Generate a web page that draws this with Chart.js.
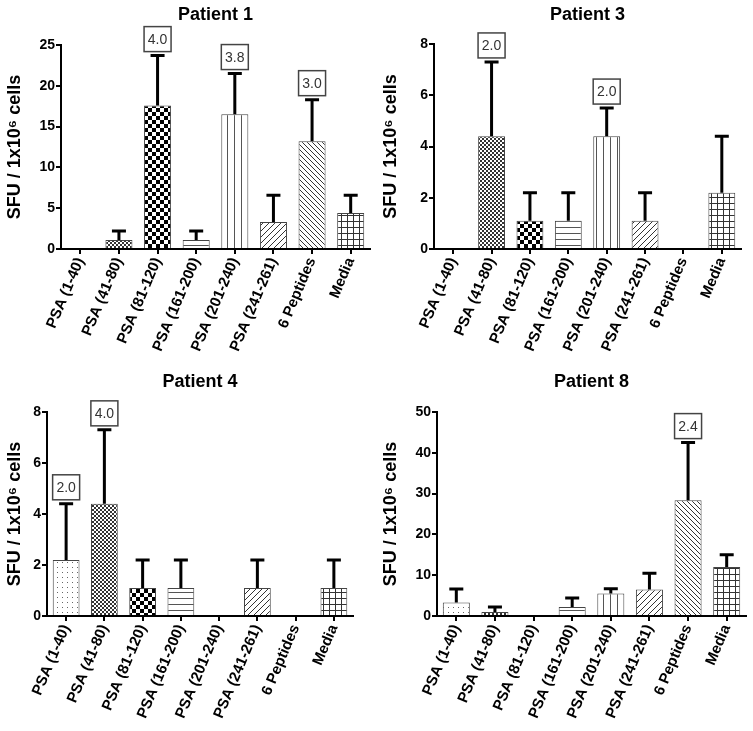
<!DOCTYPE html>
<html>
<head>
<meta charset="utf-8">
<script src="https://cdn.jsdelivr.net/npm/chart.js@4.4.1/dist/chart.umd.min.js"></script>
<style>
  body { margin: 0; background: #fff; }
  canvas { position: absolute; }
</style>
</head>
<body>
<canvas id="p1" width="376" height="365" style="left:0;top:0"></canvas>
<canvas id="p3" width="377" height="365" style="left:376px;top:0"></canvas>
<canvas id="p4" width="376" height="366" style="left:0;top:365px"></canvas>
<canvas id="p8" width="377" height="366" style="left:376px;top:365px"></canvas>
<script>
// categories (same for all four patients)
const categories = ['PSA (1-40)', 'PSA (41-80)', 'PSA (81-120)', 'PSA (161-200)',
                    'PSA (201-240)', 'PSA (241-261)', '6 Peptides', 'Media'];

// mean SFU per 1x10^6 cells, the error bar (drawn upward only) and the fold labels
const p1Mean = [0, 1.1, 17.6, 1.1, 16.5, 3.3, 13.2, 4.4];
const p1Err  = [0, 1.1, 6.1, 1.1, 5.0, 3.3, 5.1, 2.2];
const p1Fold = ['', '', '4.0', '', '3.8', '', '3.0', ''];

const p3Mean = [0, 4.4, 1.1, 1.1, 4.4, 1.1, 0, 2.2];
const p3Err  = [0, 2.9, 1.1, 1.1, 1.1, 1.1, 0, 2.2];
const p3Fold = ['', '2.0', '', '', '2.0', '', '', ''];

const p4Mean = [2.2, 4.4, 1.1, 1.1, 0, 1.1, 0, 1.1];
const p4Err  = [2.2, 2.9, 1.1, 1.1, 0, 1.1, 0, 1.1];
const p4Fold = ['2.0', '4.0', '', '', '', '', '', ''];

const p8Mean = [3.3, 1.0, 0, 2.2, 5.5, 6.5, 28.4, 12.0];
const p8Err  = [3.3, 1.2, 0, 2.2, 1.2, 4.0, 14.1, 3.0];
const p8Fold = ['', '', '', '', '', '', '2.4', ''];

// fill pattern for each category
const patternKinds = ['dots', 'fine', 'checker', 'hlines', 'vlines', 'diagF', 'diagB', 'grid'];

Chart.defaults.font.family = "'Liberation Sans', Arial, sans-serif";
Chart.defaults.color = '#000';

function makePattern(kind) {
  const c = document.createElement('canvas');
  const sizes = { dots: 5, fine: 4, checker: 8, hlines: 6, vlines: 7, diagF: 6, diagB: 5, grid: 6 };
  const s = sizes[kind];
  c.width = s; c.height = s;
  const g = c.getContext('2d');
  g.fillStyle = '#fff';
  g.fillRect(0, 0, s, s);
  if (kind === 'dots') {
    g.fillStyle = '#666';
    g.fillRect(2, 2, 1, 1);
  } else if (kind === 'fine') {
    g.fillStyle = '#333';
    g.fillRect(0, 0, 2, 2);
    g.fillRect(2, 2, 2, 2);
  } else if (kind === 'checker') {
    g.fillStyle = '#000';
    g.fillRect(0, 0, 4, 4);
    g.fillRect(4, 4, 4, 4);
  } else if (kind === 'hlines') {
    g.fillStyle = '#555';
    g.fillRect(0, s - 1, s, 1);
  } else if (kind === 'vlines') {
    g.fillStyle = '#555';
    g.fillRect(3, 0, 1, s);
  } else if (kind === 'grid') {
    g.fillStyle = '#333';
    g.fillRect(0, s - 1, s, 1);
    g.fillRect(s - 1, 0, 1, s);
  } else {
    g.strokeStyle = '#333';
    g.lineWidth = 1;
    g.beginPath();
    if (kind === 'diagF') {
      g.moveTo(-1, s + 1); g.lineTo(s + 1, -1);
      g.moveTo(-1, 1); g.lineTo(1, -1);
      g.moveTo(s - 1, s + 1); g.lineTo(s + 1, s - 1);
    } else {
      g.moveTo(-1, -1); g.lineTo(s + 1, s + 1);
      g.moveTo(s - 1, -1); g.lineTo(s + 1, 1);
      g.moveTo(-1, s - 1); g.lineTo(1, s + 1);
    }
    g.stroke();
  }
  return g.createPattern(c, 'repeat');
}

const fills = patternKinds.map(makePattern);

// error bars, fold-change boxes and the panel title
const extras = {
  id: 'extras',
  afterDatasetsDraw(chart, args, opts) {
    const ctx = chart.ctx;
    const x = chart.scales.x, y = chart.scales.y;
    const mean = chart.data.datasets[0].data;
    ctx.save();
    mean.forEach((v, i) => {
      const e = opts.err[i];
      if (!e) return;
      const cx = x.getPixelForValue(i);
      const y0 = y.getPixelForValue(v);
      const y1 = y.getPixelForValue(v + e);
      ctx.strokeStyle = '#000';
      ctx.lineWidth = 3;
      ctx.beginPath();
      ctx.moveTo(cx, y0);
      ctx.lineTo(cx, y1);
      ctx.moveTo(cx - 7, y1);
      ctx.lineTo(cx + 7, y1);
      ctx.stroke();
      const f = opts.fold[i];
      if (f) {
        const w = 27, h = 25;
        const bx = cx - w / 2, by = y1 - 4 - h;
        ctx.fillStyle = '#fff';
        ctx.fillRect(bx, by, w, h);
        ctx.lineWidth = 1.5;
        ctx.strokeStyle = '#444';
        ctx.strokeRect(bx, by, w, h);
        ctx.fillStyle = '#333';
        ctx.font = "14px 'Liberation Sans', Arial, sans-serif";
        ctx.textAlign = 'center';
        ctx.textBaseline = 'middle';
        ctx.fillText(f, cx, by + h / 2 + 1);
      }
    });
    ctx.restore();
  },
  afterDraw(chart, args, opts) {
    const ctx = chart.ctx;
    const a = chart.chartArea;
    ctx.save();
    ctx.fillStyle = '#000';
    ctx.font = "bold 18px 'Liberation Sans', Arial, sans-serif";
    ctx.textAlign = 'center';
    ctx.textBaseline = 'middle';
    ctx.fillText(opts.title, (a.left + a.right) / 2, opts.titleY);
    ctx.restore();
  }
};

function panel(id, title, mean, err, fold, max, step, box) {
  new Chart(document.getElementById(id), {
    type: 'bar',
    data: {
      labels: categories,
      datasets: [{
        data: mean,
        backgroundColor: fills,
        borderColor: '#444',
        borderWidth: 1,
        categoryPercentage: 0.7,
        barPercentage: 1
      }]
    },
    options: {
      responsive: false,
      animation: false,
      layout: { padding: { top: box.top, right: box.right, left: 0, bottom: 0 } },
      scales: {
        x: {
          offset: true,
          grid: { offset: false, drawOnChartArea: false, color: '#000', lineWidth: 2, tickLength: 5 },
          border: { color: '#000', width: 2 },
          ticks: {
            autoSkip: false, maxRotation: 67, minRotation: 67, padding: 1,
            color: '#000', font: { size: 15, weight: 'bold' }
          },
          afterFit: s => { s.height = box.xh; }
        },
        y: {
          min: 0, max: max,
          grid: { drawOnChartArea: false, color: '#000', lineWidth: 2, tickLength: 5 },
          border: { color: '#000', width: 2 },
          ticks: { stepSize: step, padding: 1, color: '#000', font: { size: 14, weight: 'bold' } },
          title: {
            display: true, text: 'SFU / 1x10⁶ cells', color: '#000',
            font: { size: 18, weight: 'bold' }, padding: { top: 4, bottom: 0 }
          },
          afterFit: s => { s.width = box.yw; }
        }
      },
      plugins: {
        legend: { display: false },
        tooltip: { enabled: false },
        extras: { err: err, fold: fold, title: title, titleY: box.titleY }
      }
    },
    plugins: [extras]
  });
}

panel('p1', 'Patient 1', p1Mean, p1Err, p1Fold, 25, 5, { top: 45, right: 6, yw: 61, xh: 116, titleY: 15 });
panel('p3', 'Patient 3', p3Mean, p3Err, p3Fold, 8, 2, { top: 44, right: 12, yw: 58, xh: 116, titleY: 15 });
panel('p4', 'Patient 4', p4Mean, p4Err, p4Fold, 8, 2, { top: 47, right: 23, yw: 47, xh: 115, titleY: 17 });
panel('p8', 'Patient 8', p8Mean, p8Err, p8Fold, 50, 10, { top: 47, right: 7, yw: 61, xh: 115, titleY: 17 });
</script>
</body>
</html>
